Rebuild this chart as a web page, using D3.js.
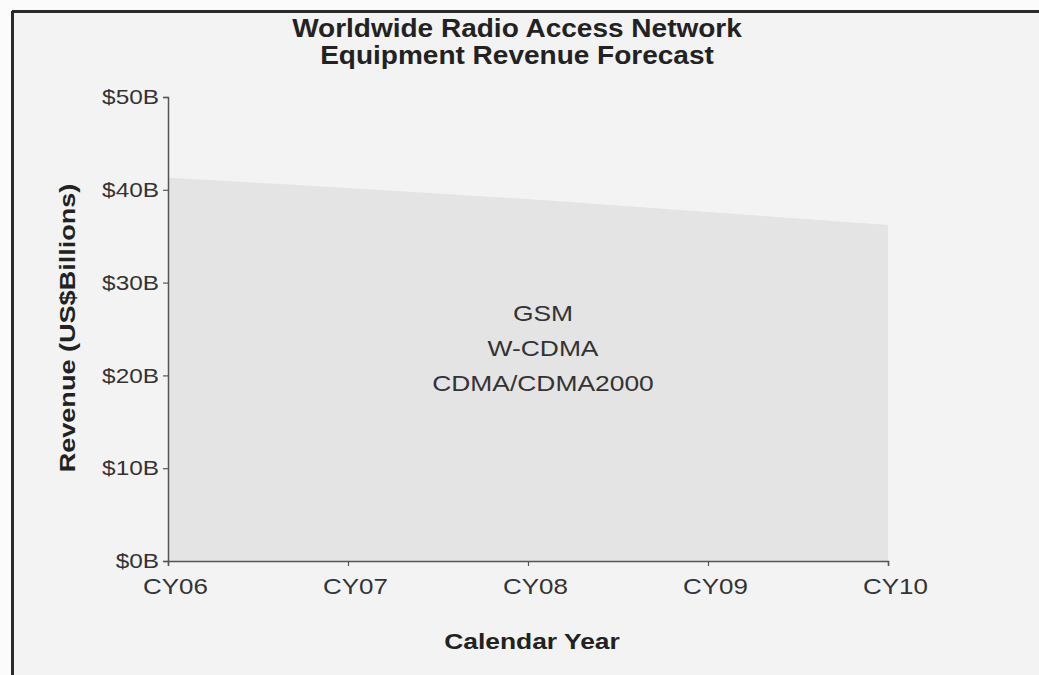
<!DOCTYPE html>
<html>
<head>
<meta charset="utf-8">
<script src="https://cdn.jsdelivr.net/npm/d3@7"></script>
<style>
  html, body { margin: 0; padding: 0; background: #fff; }
  svg { display: block; font-family: "Liberation Sans", Arial, Helvetica, sans-serif; }
</style>
</head>
<body>
<svg id="chart" width="1039" height="675"></svg>
<script>
// Forecast years and total RAN equipment revenue (US$ billions)
const years = ["CY06", "CY07", "CY08", "CY09", "CY10"];
const revenue = [41.3, 40.2, 39.0, 37.6, 36.2];
const yTicks = [0, 10, 20, 30, 40, 50];
const technologies = ["GSM", "W-CDMA", "CDMA/CDMA2000"];
const titleLines = ["Worldwide Radio Access Network", "Equipment Revenue Forecast"];

const svg = d3.select("#chart");
const W = 1039, H = 675;
const margin = { left: 168, right: 150, top: 97, bottom: 114 };

// Widen a text selection's glyphs by a factor (wide grotesque look)
function widen(sel, k) {
  sel.each(function () {
    const len = this.getComputedTextLength();
    d3.select(this).attr("textLength", len * k).attr("lengthAdjust", "spacingAndGlyphs");
  });
}

// Panel background and frame
svg.append("rect").attr("x", 0).attr("y", 0).attr("width", W).attr("height", H).attr("fill", "#fbfbfb");
svg.append("rect").attr("x", 12).attr("y", 11).attr("width", W - 12).attr("height", H - 11).attr("fill", "#f3f3f3");
svg.append("line").attr("x1", 12).attr("x2", W).attr("y1", 11.5).attr("y2", 11.5)
  .attr("stroke", "#2a2a2a").attr("stroke-width", 3);
svg.append("line").attr("x1", 12.5).attr("x2", 12.5).attr("y1", 11).attr("y2", H)
  .attr("stroke", "#2a2a2a").attr("stroke-width", 3);

const x = d3.scalePoint().domain(years).range([margin.left, W - margin.right - 1]);
const y = d3.scaleLinear().domain([0, 50]).range([H - margin.bottom, margin.top]);

// Revenue area
const area = d3.area()
  .x((d, i) => x(years[i]))
  .y0(y(0))
  .y1(d => y(d));
svg.append("path").datum(revenue).attr("d", area).attr("fill", "#e4e4e4");

// Axes
const axisColor = "#555";
const yAxis = svg.append("g").attr("transform", `translate(${margin.left},0)`)
  .call(d3.axisLeft(y).tickValues(yTicks).tickFormat(d => `$${d}B`).tickSize(5).tickPadding(4));
const xAxis = svg.append("g").attr("transform", `translate(0,${H - margin.bottom})`)
  .call(d3.axisBottom(x).tickSize(5).tickPadding(12));

[yAxis, xAxis].forEach(g => {
  g.select(".domain").attr("stroke", axisColor).attr("stroke-width", 1.5);
  g.selectAll(".tick line").attr("stroke", axisColor).attr("stroke-width", 1.2);
  g.selectAll(".tick text").attr("fill", "#333");
});
yAxis.selectAll(".tick text").style("font-size", "21px").call(widen, 1.16);
xAxis.selectAll(".tick text").style("font-size", "22px").attr("dx", 7).call(widen, 1.18);

// Titles
svg.append("g").selectAll("text").data(titleLines).join("text")
  .attr("x", 517).attr("y", (d, i) => 37 + i * 27)
  .attr("text-anchor", "middle").attr("fill", "#222")
  .style("font-size", "25px").style("font-weight", "bold")
  .text(d => d)
  .call(widen, 1.12);

svg.append("text")
  .attr("x", 532).attr("y", 649)
  .attr("text-anchor", "middle").attr("fill", "#222")
  .style("font-size", "22px").style("font-weight", "bold")
  .text("Calendar Year")
  .call(widen, 1.2);

svg.append("text")
  .attr("transform", `translate(75,328) rotate(-90)`)
  .attr("text-anchor", "middle").attr("fill", "#222")
  .style("font-size", "22px").style("font-weight", "bold")
  .text("Revenue (US$Billions)")
  .call(widen, 1.23);

// Technology labels inside the area
svg.append("g").selectAll("text").data(technologies).join("text")
  .attr("x", 543).attr("y", (d, i) => 321 + i * 35)
  .attr("text-anchor", "middle").attr("fill", "#333")
  .style("font-size", "22px")
  .text(d => d)
  .call(widen, 1.2);
</script>
</body>
</html>
